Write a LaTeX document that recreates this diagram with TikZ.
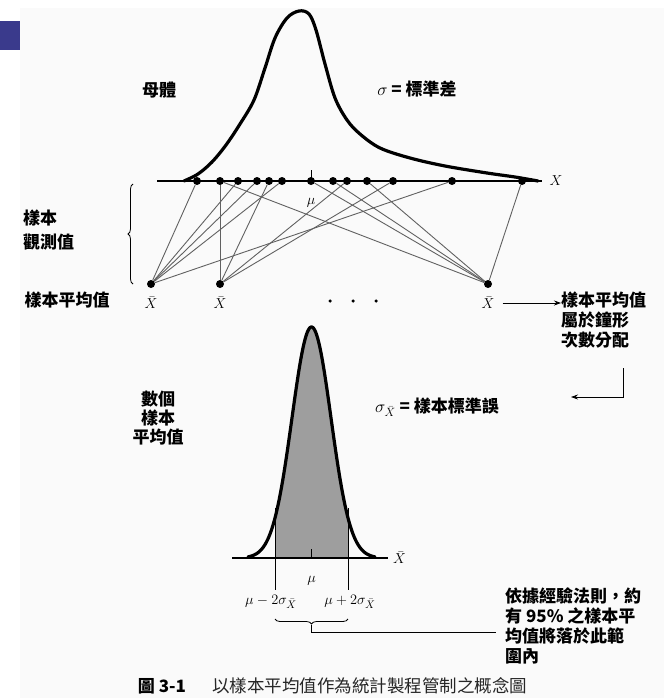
\documentclass[tikz,border=0pt]{standalone}
\usepackage{fontspec}
\usetikzlibrary{decorations.pathreplacing,arrows.meta,positioning}
\newfontfamily\cjk{Noto Sans CJK TC}
\definecolor{pagebg}{RGB}{250,250,250}
\definecolor{tabblue}{RGB}{58,58,140}
\begin{document}
\begin{tikzpicture}[x=1pt,y=-1pt,
  dot/.style={circle,fill=black,inner sep=0pt,minimum size=8pt},
  smalldot/.style={circle,fill=black,inner sep=0pt,minimum size=3.5pt},
  link/.style={draw=black!62,line width=0.9pt},
  zh/.style={font=\cjk\bfseries\fontsize{17}{19}\selectfont,inner sep=0pt},
  sym/.style={font=\fontsize{15}{17}\selectfont,inner sep=0pt},
  curve/.style={line width=3.2pt,line cap=round,line join=round},
  >={Stealth[length=7pt,width=5pt]}]
\useasboundingbox (0,0) rectangle (664,698);
\fill[white] (0,0) rectangle (664,698);
\fill[pagebg] (20,8) rectangle (664,698);
\fill[tabblue] (0,21) rectangle (20,50);

% population curve
\draw[curve] plot[smooth,tension=0.55] coordinates {(184,181) (198,174) (212,162) (226,145)
  (240,124) (254,100) (265,68) (275,38) (287,18) (299,11) (309,14) (316,30) (325,64)
  (335,98) (347,120) (360,134) (380,148) (410,158) (445,166) (487,173) (515,177) (538,181)};
\draw[line width=1.6pt] (157,181) -- (542,181);
\node[sym] (xaxis) at (556,181) {$X$};
\node[zh] (pop) at (159,90) {母體};
\node[zh] (sd) at (417,89) {$\sigma$ = 標準差};

% observations and sample means
\foreach \x [count=\i] in {197,220,238,257,269,282,311,333,347,367,393,452,522}
  \node[dot] (o\i) at (\x,181) {};
\draw[line width=1pt] (o7.center) -- ++(0,-11);
\node[sym] (mu) at (311,203) {$\mu$};
\node[dot] (m1) at (151,284) {};
\node[dot] (m2) at (220,284) {};
\node[dot] (m3) at (488,284) {};
\foreach \a/\b in {1/1,3/1,4/1,6/1,12/1,2/2,5/2,9/2,11/2,2/3,7/3,8/3,10/3,13/3}
  \draw[link] (o\a) -- (m\b);
\draw[decorate,decoration={brace,amplitude=5pt},line width=0.8pt] (133,284) -- (133,184);
\node[zh,align=left,anchor=west,font=\cjk\bfseries\fontsize{17}{24}\selectfont] (obs) at (23,230) {樣本\\觀測值};

\node[zh] (mlab) at (67,300) {樣本平均值};
\node[sym] (xb1) at (151,303) {$\bar{X}$};
\node[sym] (xb2) at (220,303) {$\bar{X}$};
\node[sym] (xb3) at (488,303) {$\bar{X}$};
\foreach \x [count=\i] in {330,353,376}
  \node[smalldot] (e\i) at (\x,301) {};
\node[zh,align=left,anchor=north west,font=\cjk\bfseries\fontsize{17}{20}\selectfont] (bell) at (561,292) {樣本平均值\\屬於鐘形\\次數分配};
\draw[->,line width=0.8pt] (xb3.east) ++(8,0) -- (xb3.east -| bell.west);
\coordinate (elb) at (623,368);
\coordinate (elbend) at (571,397);
\draw[->,line width=0.8pt] (elb) |- (elbend);

% distribution of sample means
\node[zh,align=center,font=\cjk\bfseries\fontsize{17}{19}\selectfont] (many) at (158,418) {數個\\樣本\\平均值};
\node[zh] (se) at (437,407) {$\sigma_{\bar{X}}$ = 樣本標準誤};
\fill[black!38] (275,558) -- plot[domain=275:348,samples=60] (\x,{558-231*exp(-((\x-311.5)^2)/760.5)}) -- (348,558) -- cycle;
\draw[curve] plot[domain=248:375,samples=140] (\x,{558-231*exp(-((\x-311.5)^2)/760.5)});
\draw[line width=1.3pt] (232,558) -- (388,558);
\node[sym,anchor=west] (xbaxis) at (393,558) {$\bar{X}$};
\draw[line width=0.8pt] (311.5,549) -- (311.5,558);
\draw[line width=0.8pt] (275,508) -- (275,590);
\draw[line width=0.8pt] (348,508) -- (348,590);
\node[sym] (mu2) at (311.5,581) {$\mu$};
\node[sym] (lo) at (271,602) {$\mu - 2\sigma_{\bar{X}}$};
\node[sym] (hi) at (350,602) {$\mu + 2\sigma_{\bar{X}}$};
\draw[decorate,decoration={brace,mirror,amplitude=5pt},line width=0.8pt] (275,619) -- (348,619);
\coordinate (btip) at (311.5,625);
\coordinate (rend) at (496,632);
\draw[line width=0.8pt] (btip) |- (rend);
\node[zh,align=left,anchor=north west,font=\cjk\bfseries\fontsize{17}{20}\selectfont] (rule) at (505,588) {依據經驗法則，約\\有 95\% 之樣本平\\均值將落於此範\\圍內};

% caption
\node[zh,font=\cjk\bfseries\fontsize{17}{19}\selectfont] (capnum) at (162,686) {圖 3-1};
\node[zh,anchor=west,text=black!85,font=\cjk\fontsize{17.5}{19}\selectfont] (capt) at (212,686) {以樣本平均值作為統計製程管制之概念圖};
\end{tikzpicture}
\end{document}
